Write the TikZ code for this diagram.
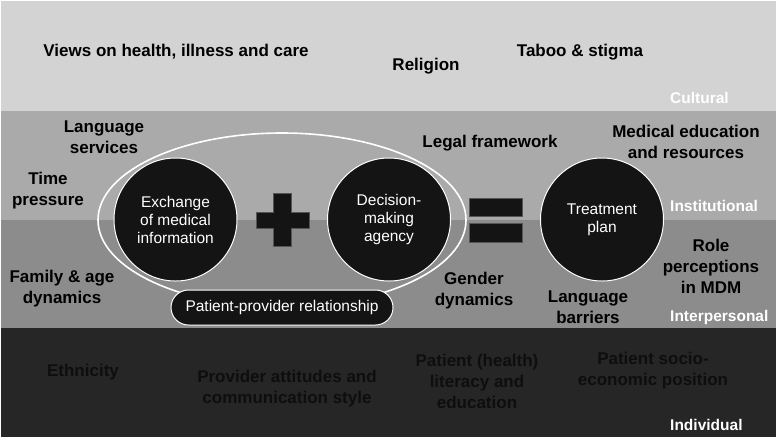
\documentclass[tikz,border=0pt]{standalone}
\usepackage{fontspec}
\setmainfont{Liberation Sans}
\usetikzlibrary{shapes.geometric}
\definecolor{cult}{HTML}{D3D3D3}
\definecolor{inst}{HTML}{AAAAAA}
\definecolor{intp}{HTML}{8C8C8C}
\definecolor{indv}{HTML}{262626}
\definecolor{cfill}{HTML}{141414}
\definecolor{indtext}{HTML}{0E0E0E}
\definecolor{edge}{HTML}{555555}
\tikzset{
  lbl/.style={font=\fontsize{17}{21}\selectfont\bfseries, align=center, text=black, inner sep=0pt},
  lvl/.style={font=\fontsize{15.5}{18}\selectfont\bfseries, text=white, anchor=west, inner sep=0pt},
  circ/.style={circle, fill=cfill, draw=white, line width=1pt, minimum size=123pt, inner sep=0pt,
    text=white, align=center, font=\fontsize{15.5}{18}\selectfont},
  bar/.style={fill=cfill, draw=edge, line width=0.6pt},
}
\begin{document}
\begin{tikzpicture}[x=1pt,y=-1pt]
\useasboundingbox (0,0) rectangle (778,440);
\fill[white] (0,0) rectangle (778,440);
% bands
\fill[cult] (1,1) rectangle (776,111);
\fill[inst] (1,111) rectangle (776,220);
\fill[intp] (1,220) rectangle (776,328);
\fill[indv] (1,328) rectangle (776,437);
% ellipse
\node (oval) [ellipse, draw=white, line width=1.6pt, minimum width=368pt, minimum height=174pt, inner sep=0pt] at (282,220) {};
% circles
\node (exch) [circ] at (175.5,219.5) {Exchange\\of medical\\information};
\node (dec) [circ] at (389,219.5) {Decision-\\making\\agency};
\node (treat) [circ] at (602,219.5) {Treatment\\plan};
% plus
\filldraw[bar] (273,193) -- (291,193) -- (291,212) -- (309,212) -- (309,228) -- (291,228)
  -- (291,246) -- (273,246) -- (273,228) -- (256,228) -- (256,212) -- (273,212) -- cycle;
% equals
\filldraw[bar] (469,198) rectangle (522,216);
\filldraw[bar] (469,223) rectangle (522,242);
% pill
\node (rel) [rectangle, rounded corners=17.5pt, fill=cfill, draw=white, line width=1pt,
  minimum width=222pt, minimum height=35pt, inner sep=0pt, text=white,
  font=\fontsize{15.5}{18}\selectfont] at (282,307.5) {Patient-provider relationship};
% cultural
\node[lbl] (views) at (176,52) {Views on health, illness and care};
\node[lbl] (relig) at (426,66) {Religion};
\node[lbl] (taboo) at (580,52) {Taboo \& stigma};
\node[lvl] (lcult) at (670,98) {Cultural};
% institutional
\node[lbl] (langs) at (104,137) {Language\\services};
\node[lbl] (time) at (48,191) {Time\\pressure};
\node[lbl] (legal) at (490,143) {Legal framework};
\node[lbl] (meded) at (686,142) {Medical education\\and resources};
\node[lvl] (linst) at (670,206) {Institutional};
% interpersonal
\node[lbl] (family) at (62,289) {Family \& age\\dynamics};
\node[lbl] (gender) at (474,291) {Gender\\dynamics};
\node[lbl] (langb) at (588,307) {Language\\barriers};
\node[lbl] (role) at (711,266) {Role\\perceptions\\in MDM};
\node[lvl] (lintp) at (670,317) {Interpersonal};
% individual
\node[lbl, text=indtext] (eth) at (83,372) {Ethnicity};
\node[lbl, text=indtext] (prov) at (287,389) {Provider attitudes and\\communication style};
\node[lbl, text=indtext] (lit) at (477,381) {Patient (health)\\literacy and\\education};
\node[lbl, text=indtext] (ses) at (653,371) {Patient socio-\\economic position};
\node[lvl] (lindv) at (670,425) {Individual};
\end{tikzpicture}
\end{document}
